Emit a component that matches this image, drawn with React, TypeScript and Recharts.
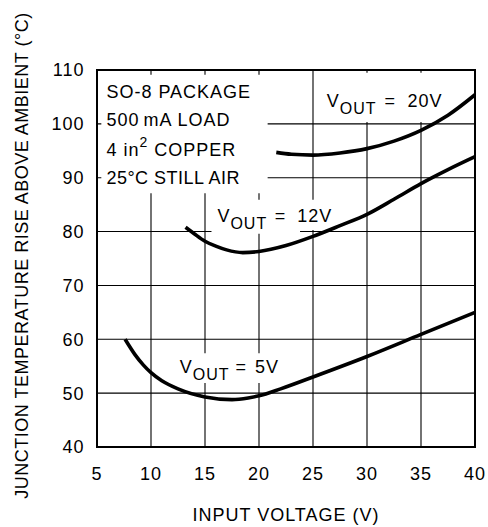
import React from 'react';
import { LineChart, Line, XAxis, YAxis, CartesianGrid, ReferenceArea, ReferenceDot, Label } from 'recharts';

const FONT = '"Liberation Sans", Arial, sans-serif';

const xTicks = [5, 10, 15, 20, 25, 30, 35, 40];
const yTicks = [40, 50, 60, 70, 80, 90, 100, 110];

// V_OUT = 5V
const vin5 = [7.6, 8.5, 9.3, 10, 11, 12.5, 15, 17.5, 19, 20, 22, 25, 30, 35, 40];
const rise5 = [60, 57.2, 55.2, 53.8, 52.3, 50.8, 49.3, 48.8, 49.1, 49.5, 50.8, 53, 56.8, 60.9, 65];

// V_OUT = 12V
const vin12 = [13.2, 14, 15, 16, 17, 18.5, 20, 22.5, 25, 27.5, 30, 32.5, 35, 37.5, 40];
const rise12 = [80.8, 79.6, 78.2, 77.3, 76.6, 76.1, 76.3, 77.4, 79.1, 81.1, 83.2, 86, 88.9, 91.5, 93.9];

// V_OUT = 20V
const vin20 = [21.6, 23, 25, 27.5, 30, 32.5, 35, 37.5, 40];
const rise20 = [94.7, 94.35, 94.2, 94.6, 95.4, 96.8, 98.8, 101.6, 105.4];

const notes = ['SO-8 PACKAGE', '500 mA LOAD', '4 in2 COPPER', '25°C STILL AIR'];

const zip = (xs: number[], ys: number[]) => xs.map((x, i) => ({ x, y: ys[i] }));
const series5 = zip(vin5, rise5);
const series12 = zip(vin12, rise12);
const series20 = zip(vin20, rise20);

const txt = { fontFamily: FONT, fontSize: 18, fill: '#000', letterSpacing: 1 };

const voutLabel = (rating: string, gapEq: number, gapVal: number) => (props: any) => {
  const { x, y } = props.viewBox;
  return (
    <text x={x} y={y} {...txt}>
      <tspan>V</tspan>
      <tspan fontSize={16} dy={7}>OUT</tspan>
      <tspan dy={-7} dx={gapEq}>=</tspan>
      <tspan dx={gapVal}>{rating}</tspan>
    </text>
  );
};

const notesLabel = (props: any) => {
  const { x, y } = props.viewBox;
  return (
    <g>
      <text x={x} y={y} {...txt}>{notes[0]}</text>
      <text x={x} y={y + 28.3} {...txt}>
        <tspan>500</tspan>
        <tspan dx={-2}> mA LOAD</tspan>
      </text>
      <text x={x} y={y + 58} {...txt}>
        <tspan>4 in</tspan>
        <tspan fontSize={14} dy={-9}>2</tspan>
        <tspan dy={9} dx={6}>COPPER</tspan>
      </text>
      <text x={x} y={y + 86.5} {...txt} letterSpacing={0.5}>{notes[3]}</text>
    </g>
  );
};

const yTitle = (props: any) => {
  const { x, y, height } = props.viewBox;
  return (
    <text
      transform={`translate(${x + 28},${y + height / 2 - 3}) rotate(-90)`}
      textAnchor="middle"
      {...txt}
      letterSpacing={0.5}
    >
      JUNCTION TEMPERATURE RISE ABOVE AMBIENT (°C)
    </text>
  );
};

const xTitle = (props: any) => {
  const { x, y, width } = props.viewBox;
  return (
    <text x={x + width / 2} y={y + 74} textAnchor="middle" {...txt}>
      INPUT VOLTAGE (V)
    </text>
  );
};

const white = { fill: '#fff', fillOpacity: 1, stroke: 'none' };

export default function App() {
  return (
    <div style={{ position: 'absolute', left: 0, top: 0, width: 488, height: 527, background: '#fff' }}>
      <LineChart width={488} height={527} margin={{ top: 70, right: 13, bottom: 0, left: 0 }}>
        <CartesianGrid stroke="#000" strokeWidth={1.1} />
        <XAxis
          type="number"
          dataKey="x"
          domain={[5, 40]}
          ticks={xTicks}
          height={80}
          axisLine={false}
          tickLine={false}
          tickSize={0}
          tickMargin={20}
          tick={txt}
          interval={0}
        >
          <Label content={xTitle} />
        </XAxis>
        <YAxis
          type="number"
          dataKey="y"
          domain={[40, 110]}
          ticks={yTicks}
          width={97}
          axisLine={false}
          tickLine={false}
          tickSize={0}
          tickMargin={12.5}
          tick={txt}
          interval={0}
        >
          <Label content={yTitle} />
        </YAxis>

        {/* white-outs behind the annotations */}
        <ReferenceArea x1={5.4} x2={20.8} y1={87.1} y2={109.1} {...white} />
        <ReferenceArea x1={25.4} x2={38.6} y1={100.35} y2={109.5} {...white} />
        <ReferenceArea x1={15.6} x2={23.8} y1={79.6} y2={85.9} {...white} />
        <ReferenceArea x1={23.8} x2={27.6} y1={80.3} y2={85.9} {...white} />
        <ReferenceArea x1={11.9} x2={22.6} y1={51.9} y2={57.4} {...white} />

        {/* plot frame */}
        <ReferenceArea x1={5} x2={40} y1={40} y2={110} fill="none" stroke="#000" strokeWidth={2} />

        <ReferenceDot x={5.87} y={104.85} r={0} fill="none" stroke="none" label={notesLabel} />
        <ReferenceDot x={26.27} y={103.2} r={0} fill="none" stroke="none" label={voutLabel('20V', 8, 11.5)} />
        <ReferenceDot x={16.15} y={81.74} r={0} fill="none" stroke="none" label={voutLabel('12V', 7.5, 11)} />
        <ReferenceDot x={12.66} y={53.8} r={0} fill="none" stroke="none" label={voutLabel('5V', 6, 8)} />

        <Line data={series5} dataKey="y" type="monotone" stroke="#000" strokeWidth={3.6} dot={false} activeDot={false} isAnimationActive={false} />
        <Line data={series12} dataKey="y" type="monotone" stroke="#000" strokeWidth={3.6} dot={false} activeDot={false} isAnimationActive={false} />
        <Line data={series20} dataKey="y" type="monotone" stroke="#000" strokeWidth={3.6} dot={false} activeDot={false} isAnimationActive={false} />
      </LineChart>
    </div>
  );
}
